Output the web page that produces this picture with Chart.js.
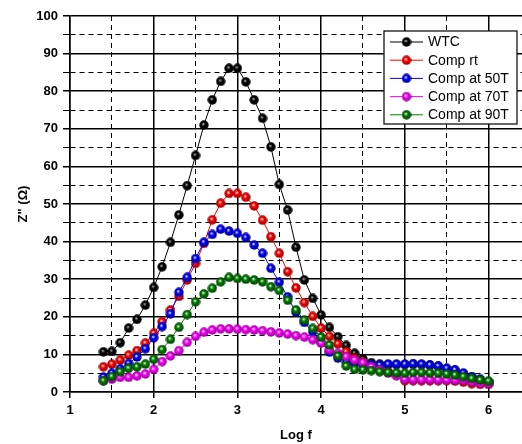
<!DOCTYPE html>
<html>
<head>
<meta charset="utf-8">
<script src="https://cdn.jsdelivr.net/npm/chart.js@4"></script>
<style>
  body { margin: 0; background: #fff; }
  #wrap { width: 522px; height: 444px; }
</style>
</head>
<body>
<div id="wrap"><canvas id="myChart"></canvas></div>
<script>
// log f values (x)
let logF = [1.4, 1.5, 1.6, 1.7, 1.8, 1.9, 2.0, 2.1, 2.2, 2.3, 2.4, 2.5, 2.6, 2.7, 2.8, 2.9,
  3.0, 3.1, 3.2, 3.3, 3.4, 3.5, 3.6, 3.7, 3.8, 3.9, 4.0, 4.1, 4.2, 4.3, 4.4, 4.5,
  4.6, 4.7, 4.8, 4.9, 5.0, 5.1, 5.2, 5.3, 5.4, 5.5, 5.6, 5.7, 5.8, 5.9, 6.0];

// Z'' values
let wtc = [10.7, 10.8, 13.1, 17.0, 19.3, 23.1, 27.8, 33.3, 39.8, 47.1, 54.9, 62.9, 71.0, 77.7, 82.6, 86.1,
  86.1, 82.5, 77.7, 72.8, 65.2, 55.2, 48.4, 38.5, 29.8, 24.9, 20.5, 17.2, 14.7, 12.4, 10.3, 8.8,
  7.8, 7.4, 7.3, 7.3, 7.3, 7.4, 7.3, 7.1, 6.8, 6.2, 5.8, 4.9, 4.0, 3.3, 2.6];
let compRt = [6.7, 7.4, 8.5, 9.8, 11.0, 13.0, 15.6, 18.7, 21.8, 25.4, 29.8, 34.2, 39.5, 45.8, 50.2, 52.8,
  52.8, 51.8, 49.5, 45.7, 41.3, 36.9, 32.0, 27.7, 23.8, 20.1, 17.0, 14.8, 12.8, 10.7, 9.0, 8.0,
  7.0, 6.2, 5.4, 4.6, 3.0, 3.0, 3.0, 3.0, 3.0, 3.0, 2.9, 2.6, 2.2, 2.0, 2.0];
let comp50 = [4.0, 5.0, 6.2, 7.6, 9.3, 11.5, 14.4, 17.4, 20.8, 26.5, 30.5, 35.5, 39.8, 41.9, 43.3, 42.8,
  42.2, 41.1, 39.1, 36.9, 32.9, 29.2, 25.3, 21.2, 18.5, 16.0, 13.2, 10.6, 9.0, 8.0, 7.5, 7.3,
  7.2, 7.2, 7.4, 7.4, 7.4, 7.5, 7.4, 7.2, 6.9, 6.3, 5.9, 5.0, 4.1, 3.4, 2.5];
let comp70 = [3.0, 3.4, 3.9, 3.9, 4.3, 4.8, 6.0, 8.1, 9.6, 11.0, 13.2, 14.8, 15.9, 16.5, 16.8, 16.8,
  16.7, 16.6, 16.5, 16.3, 16.0, 15.7, 15.4, 15.0, 14.6, 13.9, 13.0, 11.2, 10.3, 9.4, 8.5, 7.8,
  6.7, 5.9, 5.0, 4.3, 3.4, 3.3, 3.3, 3.3, 3.2, 3.2, 3.2, 3.1, 2.7, 2.3, 2.3];
let comp90 = [3.0, 4.1, 5.4, 6.3, 6.7, 7.4, 8.7, 11.3, 14.0, 17.2, 20.6, 24.0, 26.1, 27.6, 29.3, 30.5,
  30.2, 30.0, 29.8, 29.3, 28.0, 27.0, 24.4, 21.8, 19.1, 16.9, 14.6, 12.5, 9.6, 6.9, 6.0, 5.9,
  5.7, 5.4, 5.2, 5.1, 5.0, 5.2, 5.2, 5.1, 5.0, 4.8, 4.5, 4.1, 3.6, 3.2, 2.9];

let names = ['WTC', 'Comp rt', 'Comp at 50T', 'Comp at 70T', 'Comp at 90T'];
let colors = ['#000000', '#ff0000', '#0000ff', '#ff00ff', '#008000'];
let darks = ['#000000', '#8a0000', '#00008a', '#8a008a', '#003800'];
let series = [wtc, compRt, comp50, comp70, comp90];

// shaded ball used as point style
function ball(color, dark, light) {
  var c = document.createElement('canvas');
  c.width = 10; c.height = 10;
  var g = c.getContext('2d');
  var grad = g.createRadialGradient(4.2, 3.8, 0.2, 5, 5, 5);
  grad.addColorStop(0, light);
  grad.addColorStop(0.35, color);
  grad.addColorStop(1, dark);
  g.fillStyle = grad;
  g.beginPath();
  g.arc(5, 5, 4.7, 0, Math.PI * 2);
  g.fill();
  return c;
}

let balls = colors.map(function(col, i) {
  return ball(col, darks[i], i === 0 ? '#bbbbbb' : '#ffffff');
});

let datasets = series.map(function(s, i) {
  return {
    label: names[i],
    data: s.map(function(v, j) { return {x: logF[j], y: v}; }),
    borderColor: colors[i],
    borderWidth: 1,
    pointStyle: balls[i],
    pointRadius: 4.5,
    tension: 0,
    order: 5 - i   // later series drawn on top
  };
});

// legend box inside the plot
let boxLegend = {
  id: 'boxLegend',
  afterDatasetsDraw: function(chart) {
    var ctx = chart.ctx;
    var a = chart.chartArea;
    var w = 133, h = 93;
    var left = a.right - w - 5, top = a.top + 15;
    ctx.save();
    ctx.fillStyle = '#fff';
    ctx.fillRect(left, top, w, h);
    ctx.strokeStyle = '#000';
    ctx.lineWidth = 1.2;
    ctx.strokeRect(left, top, w, h);
    ctx.font = '14px "Liberation Sans", Arial, sans-serif';
    ctx.textBaseline = 'middle';
    chart.data.datasets.forEach(function(ds, i) {
      var y = top + 11 + i * 18.2;
      ctx.strokeStyle = ds.borderColor;
      ctx.lineWidth = 1;
      ctx.beginPath();
      ctx.moveTo(left + 6, y);
      ctx.lineTo(left + 39, y);
      ctx.stroke();
      ctx.drawImage(balls[i], left + 22.5 - 5, y - 5);
      ctx.fillStyle = '#000';
      ctx.fillText(ds.label, left + 44, y + 0.5);
    });
    ctx.restore();
  }
};

function isHalf(v, step) {
  return Math.abs(v / step - Math.round(v / step)) > 0.01;
}

var ctx = document.getElementById('myChart').getContext('2d');
var chart = new Chart(ctx, {
  type: 'line',
  data: { datasets: datasets },
  options: {
    responsive: true,
    maintainAspectRatio: false,
    animation: false,
    layout: { autoPadding: false, padding: { top: 16, right: 0, left: 0, bottom: 0 } },
    plugins: {
      legend: { display: false },
      tooltip: { enabled: false }
    },
    scales: {
      x: {
        type: 'linear',
        min: 1,
        max: 6.4,
        afterFit: function(scale) {
          scale.height = 52;
          scale.paddingLeft = 0;
          scale.paddingRight = 0;
        },
        ticks: {
          stepSize: 0.5,
          includeBounds: false,
          autoSkip: false,
          maxRotation: 0,
          padding: 5,
          color: '#000',
          font: { family: '"Liberation Sans", Arial, sans-serif', size: 13, weight: 'bold' },
          callback: function(v) { return isHalf(v, 1) ? '' : String(v); }
        },
        grid: {
          color: '#000',
          tickLength: 6,
          lineWidth: function(c) { return c.tick && isHalf(c.tick.value, 1) ? 1 : 1.5; }
        },
        border: {
          color: '#000',
          width: 1.5,
          dash: function(c) { return c.tick && isHalf(c.tick.value, 1) ? [5, 4] : []; }
        },
        title: {
          display: true,
          text: 'Log f',
          color: '#000',
          padding: { top: 0, bottom: 1 },
          font: { family: '"Liberation Sans", Arial, sans-serif', size: 13, weight: 'bold' }
        }
      },
      y: {
        min: 0,
        max: 100,
        afterFit: function(scale) { scale.width = 70; },
        ticks: {
          stepSize: 5,
          autoSkip: false,
          padding: 5,
          color: '#000',
          font: { family: '"Liberation Sans", Arial, sans-serif', size: 13, weight: 'bold' },
          callback: function(v) { return isHalf(v, 10) ? '' : String(v); }
        },
        grid: {
          color: '#000',
          tickLength: 7,
          lineWidth: function(c) { return c.tick && isHalf(c.tick.value, 10) ? 1 : 1.5; }
        },
        border: {
          color: '#000',
          width: 1.5,
          dash: function(c) { return c.tick && isHalf(c.tick.value, 10) ? [5, 4] : []; }
        },
        title: {
          display: true,
          text: 'Z" (Ω)',
          color: '#000',
          padding: { top: 16, bottom: 0 },
          font: { family: '"Liberation Sans", Arial, sans-serif', size: 13, weight: 'bold' }
        }
      }
    }
  },
  plugins: [boxLegend]
});
</script>
</body>
</html>
